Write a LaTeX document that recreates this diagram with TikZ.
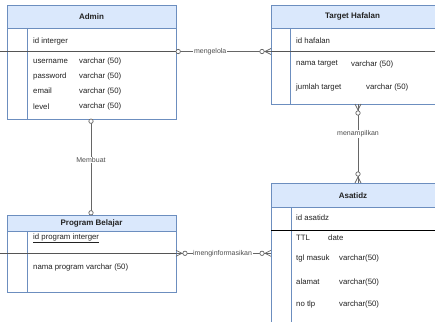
\documentclass[tikz,border=0pt]{standalone}
\usepackage{fontspec}
\setmainfont{Liberation Sans}
\usetikzlibrary{calc}
\definecolor{hdr}{HTML}{DAE8FC}
\definecolor{bdr}{HTML}{6C8EBF}
\definecolor{sepc}{HTML}{555555}
\definecolor{cn}{HTML}{666666}
\definecolor{txt}{HTML}{222222}
\begin{document}
\begin{tikzpicture}[x=1pt,y=-1pt,
  box/.style={draw=bdr, line width=0.7pt, fill=white, anchor=north west, inner sep=0pt, outer sep=0pt},
  hdrbox/.style={box, fill=hdr},
  title/.style={font=\fontsize{8}{9}\selectfont\bfseries, inner sep=0pt, text=txt},
  field/.style={font=\fontsize{7.8}{9}\selectfont, anchor=west, inner sep=0pt, text=txt},
  lbl/.style={font=\fontsize{7}{8}\selectfont, fill=white, inner sep=0.6pt, text=txt!80},
  conn/.style={draw=cn, line width=0.7pt},
  sepline/.style={draw=sepc, line width=1pt},
  inner/.style={draw=bdr, line width=0.7pt},
  pics/crowzero/.style 2 args={code={
    \draw[conn] ({3*#2},{3*#1}) -- ({6*#1},{6*#2}) -- ({-3*#2},{-3*#1});
    \draw[conn] (0,0) -- ({6*#1},{6*#2});
    \draw[conn,fill=white] ({9*#1},{9*#2}) circle (2.2);
  }},
  pics/zeroone/.style 2 args={code={
    \draw[conn,fill=white] ({2.2*#1},{2.2*#2}) circle (2.2);
  }}
]
\useasboundingbox (0,0) rectangle (435,321);
\clip (0,0) rectangle (435,321);

% ---------- Admin ----------
\node[box, minimum width=169pt, minimum height=114pt] (admin) at (7,5) {};
\node[hdrbox, minimum width=169pt, minimum height=23pt] (adminh) at (7,5) {};
\node[title] (admint) at (91.5,16.5) {Admin};
\draw[inner] (27.5,28) -- (27.5,119);
\draw[sepline] (0,51.5) -- (176,51.5);
\node[field] (a0) at (33,41) {id interger};
\node[field] (a1) at (33,61) {username};
\node[field] (a1t) at (79,61) {varchar (50)};
\node[field] (a2) at (33,76) {password};
\node[field] (a2t) at (79,76) {varchar (50)};
\node[field] (a3) at (33,91) {email};
\node[field] (a3t) at (79,91) {varchar (50)};
\node[field] (a4) at (33,106.5) {level};
\node[field] (a4t) at (79,106.5) {varchar (50)};

% ---------- Target Hafalan ----------
\node[box, minimum width=168pt, minimum height=99pt] (target) at (271,5) {};
\node[hdrbox, minimum width=168pt, minimum height=23pt] (targeth) at (271,5) {};
\node[title] (targett) at (352.5,16.5) {Target Hafalan};
\draw[inner] (290.5,28) -- (290.5,104);
\draw[sepline] (271,51.5) -- (435,51.5);
\node[field] (t0) at (296,41) {id hafalan};
\node[field] (t1) at (296,64) {nama target};
\node[field] (t1t) at (351,64) {varchar (50)};
\node[field] (t2) at (296,87.5) {jumlah target};
\node[field] (t2t) at (366,87.5) {varchar (50)};

% ---------- Asatidz ----------
\node[box, minimum width=168pt, minimum height=145pt] (asatidz) at (271,183) {};
\node[hdrbox, minimum width=168pt, minimum height=24pt] (asatidzh) at (271,183) {};
\node[title] (asatidzt) at (353,196) {Asatidz};
\draw[inner] (291,207) -- (291,325);
\draw[draw=black, line width=0.8pt] (271,230) -- (435,230);
\node[field] (s0) at (296,218) {id asatidz};
\node[field] (s1) at (296,238) {TTL};
\node[field] (s1t) at (328,238) {date};
\node[field] (s2) at (296,258) {tgl masuk};
\node[field] (s2t) at (339,258) {varchar(50)};
\node[field] (s3) at (296,282) {alamat};
\node[field] (s3t) at (339,282) {varchar(50)};
\node[field] (s4) at (296,304) {no tlp};
\node[field] (s4t) at (339,304) {varchar(50)};

% ---------- Program Belajar ----------
\node[box, minimum width=169pt, minimum height=77pt] (program) at (7,215) {};
\node[hdrbox, minimum width=169pt, minimum height=16pt] (programh) at (7,215) {};
\node[title] (programt) at (91.5,223) {Program Belajar};
\draw[inner] (27.5,231) -- (27.5,292);
\draw[sepline] (0,253.3) -- (176,253.3);
\node[field] (p0) at (33,238) {\underline{id program interger}};
\node[field] (p1) at (33,267) {nama program varchar (50)};

% ---------- connectors ----------
\coordinate (cA1) at (admin.east |- 0,51.5);
\coordinate (cT1) at (target.west |- 0,51.5);
\draw[conn] (cA1) -- node[lbl, pos=0.36] (l1) {mengelola} (cT1);
\pic at (cA1) {zeroone={1}{0}};
\pic at (cT1) {crowzero={-1}{0}};

\coordinate (cA2) at (admin.south -| 91,0);
\coordinate (cP2) at (program.north -| 91,0);
\draw[conn] (cA2) -- node[lbl, pos=0.43] (l2) {Membuat} (cP2);
\pic at (cA2) {zeroone={0}{1}};
\pic at (cP2) {zeroone={0}{-1}};

\coordinate (cT3) at (target.south -| 358,0);
\coordinate (cS3) at (asatidz.north -| 358,0);
\draw[conn] (cT3) -- node[lbl, pos=0.38] (l3) {menampilkan} (cS3);
\pic at (cT3) {crowzero={0}{1}};
\pic at (cS3) {crowzero={0}{-1}};

\coordinate (cP4) at (program.east |- 0,253.3);
\coordinate (cS4) at (asatidz.west |- 0,253.3);
\draw[conn] (cP4) -- node[lbl, pos=0.49] (l4) {imenginformasikan} (cS4);
\pic at (cP4) {crowzero={1}{0}};
\pic at (cS4) {crowzero={-1}{0}};
\end{tikzpicture}
\end{document}
